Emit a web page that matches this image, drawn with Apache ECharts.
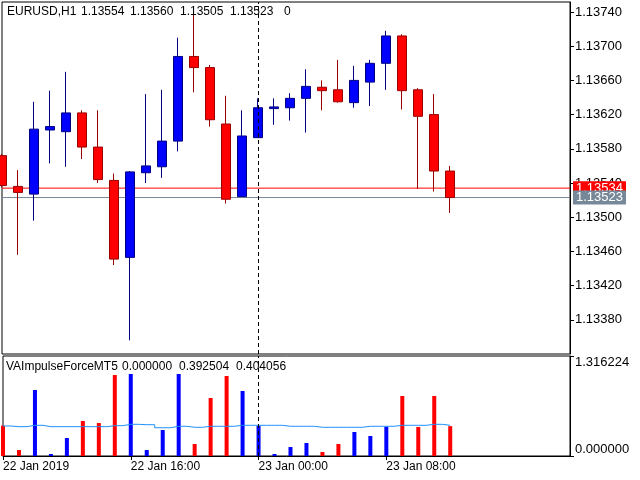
<!DOCTYPE html>
<html>
<head>
<meta charset="utf-8">
<script src="https://cdn.jsdelivr.net/npm/echarts@6/dist/echarts.min.js"></script>
<style>
html, body { margin: 0; padding: 0; background: #fff; }
#main { width: 640px; height: 480px; }
</style>
</head>
<body>
<div id="main"></div>
<script>
var symbolName = "EURUSD,H1";
var indicatorName = "VAImpulseForceMT5";

// H1 candles, 22 Jan 08:00 .. 23 Jan 12:00
var openPrices  = [1.13572, 1.13536, 1.13527, 1.13602, 1.13600, 1.13622, 1.13582, 1.13543, 1.13453, 1.13552,
                   1.13559, 1.13589, 1.13688, 1.13675, 1.13609, 1.13524, 1.13593, 1.13627, 1.13628, 1.13639,
                   1.13652, 1.13649, 1.13634, 1.13658, 1.13680, 1.13712, 1.13649, 1.13620, 1.13554];
var highPrices  = [1.13574, 1.13555, 1.13635, 1.13648, 1.13670, 1.13625, 1.13625, 1.13551, 1.13554, 1.13644,
                   1.13649, 1.13710, 1.13739, 1.13678, 1.13642, 1.13625, 1.13639, 1.13639, 1.13645, 1.13673,
                   1.13660, 1.13684, 1.13677, 1.13684, 1.13718, 1.13714, 1.13651, 1.13644, 1.13560];
var lowPrices   = [1.13535, 1.13456, 1.13496, 1.13563, 1.13559, 1.13568, 1.13540, 1.13444, 1.13356, 1.13540,
                   1.13546, 1.13577, 1.13646, 1.13606, 1.13516, 1.13524, 1.13593, 1.13608, 1.13613, 1.13599,
                   1.13625, 1.13634, 1.13628, 1.13630, 1.13649, 1.13626, 1.13533, 1.13530, 1.13505];
var closePrices = [1.13537, 1.13529, 1.13603, 1.13606, 1.13622, 1.13582, 1.13544, 1.13451, 1.13553, 1.13560,
                   1.13589, 1.13688, 1.13675, 1.13614, 1.13521, 1.13595, 1.13628, 1.13629, 1.13639, 1.13653,
                   1.13648, 1.13635, 1.13660, 1.13680, 1.13712, 1.13648, 1.13618, 1.13554, 1.13523];
var spreadValue = 0;
var askPrice = 1.13534;

// indicator buffers
var impulse = [0.399, 0.079, 0.869, 0.026, 0.237, 0.461, 0.434, 1.066, 1.079, 0.079,
               0.342, 1.079, 0.158, 0.763, 1.053, 0.856, 0.395, 0.026, 0.118, 0.171,
               0.053, 0.158, 0.316, 0.263, 0.386, 0.790, 0.382, 0.790, 0.392504];
var impulseSignal = [0.395, 0.386, 0.404, 0.386, 0.386, 0.386, 0.386, 0.399, 0.417, 0.412,
                     0.372, 0.391, 0.378, 0.391, 0.391, 0.404, 0.404, 0.404, 0.391, 0.391,
                     0.378, 0.378, 0.378, 0.391, 0.391, 0.404, 0.404, 0.417, 0.404056];
var impulseMax = 1.316224;

// axes
var priceMin = 1.1334;
var priceMax = 1.137517;
var priceStep = 0.0004;
var barMin = 0;
var barMax = 35.5;  // room for the chart shift on the right
var timeTicks = [0, 8, 16, 24];
var timeLabels = ["22 Jan 2019", "22 Jan 16:00", "23 Jan 00:00", "23 Jan 08:00"];
var separatorBar = 16;

var bullColor = "#0000ff";
var bearColor = "#ff0000";
var font = "Liberation Sans";

var candles = [];
var bars = [];
var signal = [];
for (var i = 0; i < openPrices.length; i++) {
    candles.push([i, openPrices[i], closePrices[i], lowPrices[i], highPrices[i]]);
    var up = closePrices[i] > openPrices[i];
    bars.push({ value: [i, impulse[i]], itemStyle: { color: up ? bullColor : bearColor } });
    signal.push([i, impulseSignal[i]]);
}
var last = openPrices.length - 1;
var lastUp = closePrices[last] > openPrices[last];
var bidPrice = closePrices[last];

var headerParts = [
    [7, symbolName],
    [81, openPrices[last].toFixed(5)],
    [130, highPrices[last].toFixed(5)],
    [180, lowPrices[last].toFixed(5)],
    [230, closePrices[last].toFixed(5)],
    [284, String(spreadValue)]
];
var indParts = [
    [6, indicatorName],
    [122, (lastUp ? impulse[last] : 0).toFixed(6)],
    [179, (lastUp ? 0 : impulse[last]).toFixed(6)],
    [236, impulseSignal[last].toFixed(6)]
];
var graphics = [];
headerParts.forEach(function (p) {
    graphics.push({ type: 'text', x: p[0], y: 12, z: 100,
        style: { text: p[1], fill: '#000', fontSize: 12, fontFamily: font, verticalAlign: 'middle' } });
});
indParts.forEach(function (p) {
    graphics.push({ type: 'text', x: p[0], y: 367, z: 100,
        style: { text: p[1], fill: '#000', fontSize: 12, fontFamily: font, verticalAlign: 'middle' } });
});

// horizontal price line with its tag on the price scale
function priceLine(price, color, z) {
    return {
        type: 'line',
        xAxisIndex: 0,
        yAxisIndex: 0,
        data: [[barMin, price], [barMax, price]],
        symbol: 'none',
        silent: true,
        clip: false,
        z: z,
        lineStyle: { color: color, width: 1 },
        endLabel: {
            show: true, distance: 3, color: '#fff', fontSize: 13, fontFamily: font,
            backgroundColor: color, padding: [1, 3, 0, 3], lineHeight: 13,
            formatter: function () { return price.toFixed(5); }
        }
    };
}

var dom = document.getElementById("main");
var myChart = echarts.init(dom);

var option = {
    backgroundColor: '#fff',
    animation: false,
    textStyle: { fontFamily: font },
    grid: [
        { left: 2, right: 70, top: 2, height: 352, show: true, borderColor: '#000', borderWidth: 1 },
        { left: 2, right: 70, top: 356, height: 100, show: true, borderColor: '#000', borderWidth: 1 }
    ],
    xAxis: [
        { type: 'value', gridIndex: 0, min: barMin, max: barMax, show: false, axisLine: { onZero: false } },
        {
            type: 'value', gridIndex: 1, min: barMin, max: barMax,
            splitLine: { show: false },
            axisLine: { show: true, onZero: false, lineStyle: { color: '#000' } },
            axisTick: { show: true, customValues: timeTicks, length: 4, lineStyle: { color: '#000' } },
            axisLabel: {
                customValues: timeTicks, align: 'left', margin: 5, fontSize: 12, color: '#000',
                formatter: function (v) { return timeLabels[timeTicks.indexOf(v)] || ''; }
            }
        }
    ],
    yAxis: [
        {
            type: 'value', gridIndex: 0, position: 'right', min: priceMin, max: priceMax, interval: priceStep,
            splitLine: { show: false },
            axisLine: { show: true, onZero: false, lineStyle: { color: '#000' } },
            axisTick: { show: true, length: 4, lineStyle: { color: '#000' } },
            axisLabel: {
                showMinLabel: false, showMaxLabel: false, margin: 5, fontSize: 13, color: '#000',
                formatter: function (v) { return v.toFixed(5); }
            }
        },
        {
            type: 'value', gridIndex: 1, position: 'right', min: 0, max: impulseMax,
            splitLine: { show: false },
            axisLine: { show: true, onZero: false, lineStyle: { color: '#000' } },
            axisTick: { show: true, customValues: [0, impulseMax], length: 4, lineStyle: { color: '#000' } },
            axisLabel: {
                customValues: [impulseMax], margin: 5, fontSize: 13, color: '#000', verticalAlign: 'top',
                formatter: function (v) { return v.toFixed(6); }
            }
        },
        {
            type: 'value', gridIndex: 1, position: 'right', min: 0, max: impulseMax,
            splitLine: { show: false },
            axisLine: { show: false, onZero: false },
            axisTick: { show: false },
            axisLabel: {
                customValues: [0], margin: 5, fontSize: 13, color: '#000', verticalAlign: 'bottom',
                formatter: function (v) { return v.toFixed(6); }
            }
        }
    ],
    graphic: graphics,
    series: [
        priceLine(askPrice, '#ff0000', 1),
        priceLine(bidPrice, '#778899', 1),
        {
            type: 'candlestick',
            xAxisIndex: 0,
            yAxisIndex: 0,
            data: candles,
            encode: { x: 0, y: [1, 2, 3, 4] },
            barWidth: 10,
            z: 3,
            itemStyle: {
                color: bullColor,
                color0: bearColor,
                borderColor: '#000080',
                borderColor0: '#990000',
                borderWidth: 1
            },
            markLine: {
                silent: true,
                symbol: 'none',
                animation: false,
                label: { show: false },
                data: [
                    { xAxis: separatorBar, lineStyle: { color: '#000', type: [4, 3], width: 1 } }
                ]
            }
        },
        {
            type: 'bar',
            xAxisIndex: 1,
            yAxisIndex: 1,
            data: bars,
            barWidth: 4,
            markLine: {
                silent: true,
                symbol: 'none',
                animation: false,
                label: { show: false },
                data: [
                    { xAxis: separatorBar, lineStyle: { color: '#000', type: [4, 3], width: 1 } }
                ]
            }
        },
        {
            type: 'line',
            xAxisIndex: 1,
            yAxisIndex: 1,
            data: signal,
            step: 'middle',
            symbol: 'none',
            lineStyle: { color: '#1e90ff', width: 1 },
            z: 3
        }
    ]
};
myChart.setOption(option);
</script>
</body>
</html>
